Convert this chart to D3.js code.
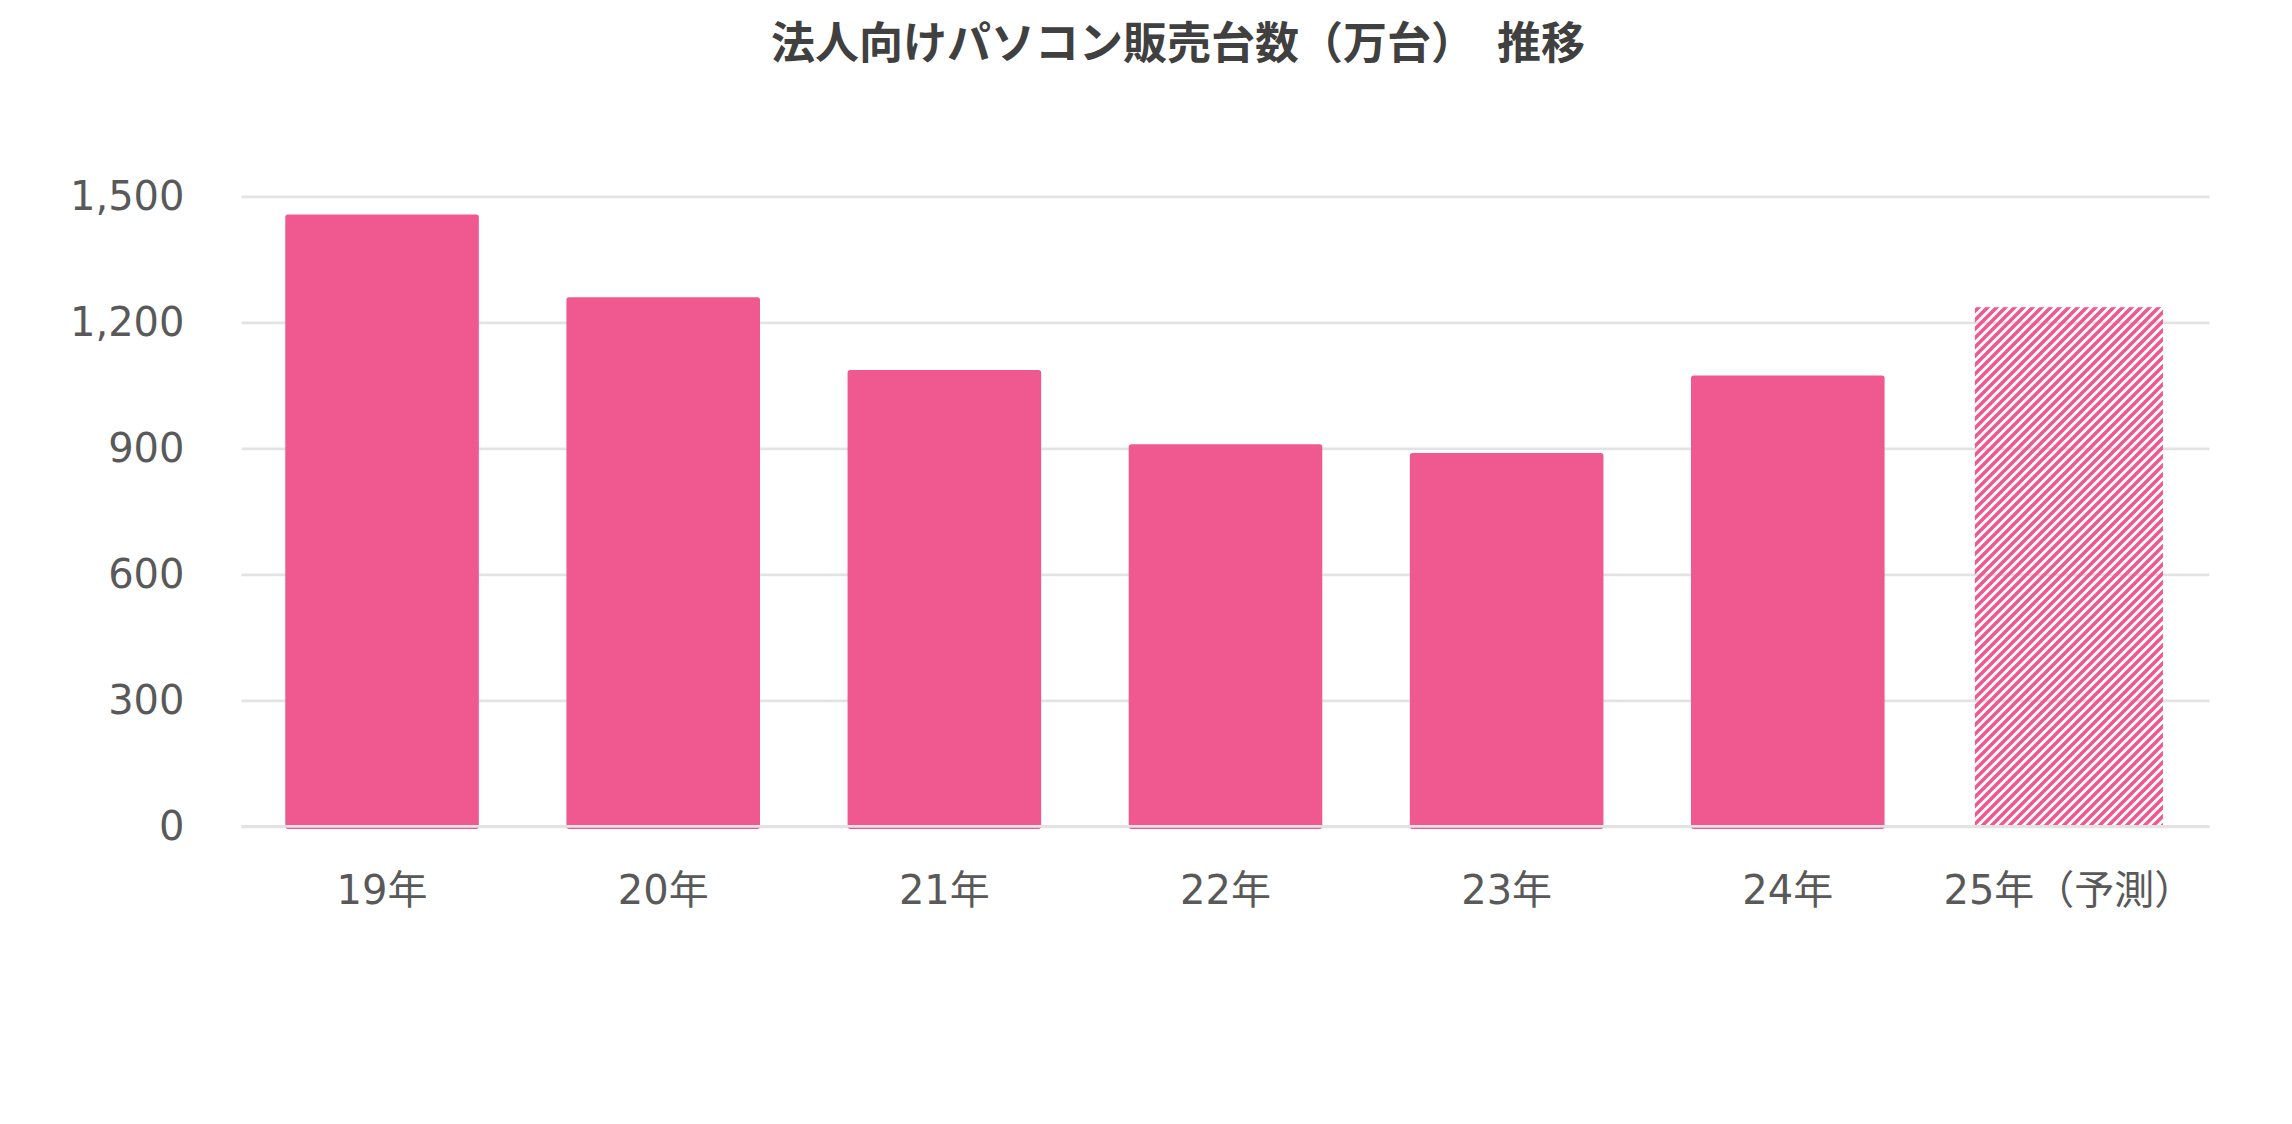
<!DOCTYPE html>
<html lang="ja">

<head>
  <meta charset="UTF-8">
  <title>法人向けパソコン販売台数（万台）推移</title>
  <script src="https://d3js.org/d3.v7.min.js"></script>
  <style>
    body { margin: 0; background: #fff; }
    text { font-family: "DejaVu Sans", "Noto Sans CJK JP", sans-serif; }
  </style>
</head>

<body>

  <script>
    // chart values
    const categories = ["19年", "20年", "21年", "22年", "23年", "24年", "25年（予測）"];
    const sales = [1450, 1253, 1080, 903, 882, 1067, 1236];
    const isForecast = [false, false, false, false, false, false, true];
    const yTicks = [0, 300, 600, 900, 1200, 1500];
    const titleText = "法人向けパソコン販売台数（万台）　推移";

    const width = 2292;
    const height = 1124;
    const pink = '#f0598f';
    const plot = { left: 241.5, right: 2209.5, top: 196.3, bottom: 826.3 };

    const svg = d3.select('body')
      .append('svg')
      .attr('width', width)
      .attr('height', height);

    // hatch for the forecast bar
    const hs = 9;
    const defs = svg.append('defs');
    const pat = defs.append('pattern')
      .attr('id', 'hatch')
      .attr('patternUnits', 'userSpaceOnUse')
      .attr('width', hs)
      .attr('height', hs);
    pat.append('path')
      .attr('d', `M${-hs / 4},${hs / 4} l${hs / 2},${-hs / 2} M0,${hs} l${hs},${-hs} M${hs * 0.75},${hs * 1.25} l${hs / 2},${-hs / 2}`)
      .attr('stroke', pink)
      .attr('stroke-width', 3.6);

    const xScale = d3.scaleBand()
      .domain(categories)
      .range([plot.left, plot.right])
      .paddingInner(0.331)
      .paddingOuter(0.1655);

    const yScale = d3.scaleLinear()
      .domain([0, 1500])
      .range([plot.bottom, plot.top]);

    // y axis + gridlines
    const yAxis = svg.append('g')
      .attr('transform', `translate(${plot.left},0)`)
      .call(d3.axisLeft(yScale)
        .tickValues(yTicks)
        .tickSize(-(plot.right - plot.left))
        .tickPadding(57)
        .tickFormat(d3.format(',')));
    yAxis.select('.domain').remove();
    yAxis.selectAll('line')
      .attr('stroke', '#e3e3e3')
      .attr('stroke-width', 2.75);
    yAxis.selectAll('text')
      .attr('fill', '#595959')
      .style('font-size', '40px');

    // bars
    const data = categories.map((c, i) => ({ cat: c, value: sales[i], forecast: isForecast[i] }));

    svg.append('g')
      .selectAll('rect')
      .data(data)
      .join('rect')
      .attr('x', d => xScale(d.cat))
      .attr('y', d => yScale(d.value))
      .attr('width', xScale.bandwidth())
      .attr('height', d => yScale(0) - yScale(d.value))
      .attr('fill', d => d.forecast ? 'url(#hatch)' : pink)
      .attr('stroke', d => d.forecast ? 'none' : pink)
      .attr('stroke-width', 5.5)
      .attr('stroke-linejoin', 'round');

    // zero line on top of the bars
    svg.append('line')
      .attr('x1', plot.left)
      .attr('x2', plot.right)
      .attr('y1', yScale(0))
      .attr('y2', yScale(0))
      .attr('stroke', '#e3e3e3')
      .attr('stroke-width', 2.75);

    // x axis labels
    const xAxis = svg.append('g')
      .attr('transform', `translate(0,${plot.bottom})`)
      .call(d3.axisBottom(xScale).tickSize(0).tickPadding(49));
    xAxis.select('.domain').remove();
    xAxis.selectAll('text')
      .attr('fill', '#595959')
      .style('font-size', '40px');

    // title
    svg.append('text')
      .attr('x', 1178)
      .attr('y', 59)
      .attr('text-anchor', 'middle')
      .attr('fill', '#404040')
      .style('font-family', '"Noto Sans CJK JP", sans-serif')
      .style('font-weight', 700)
      .style('font-size', '44px')
      .text(titleText);
  </script>

</body>

</html>
